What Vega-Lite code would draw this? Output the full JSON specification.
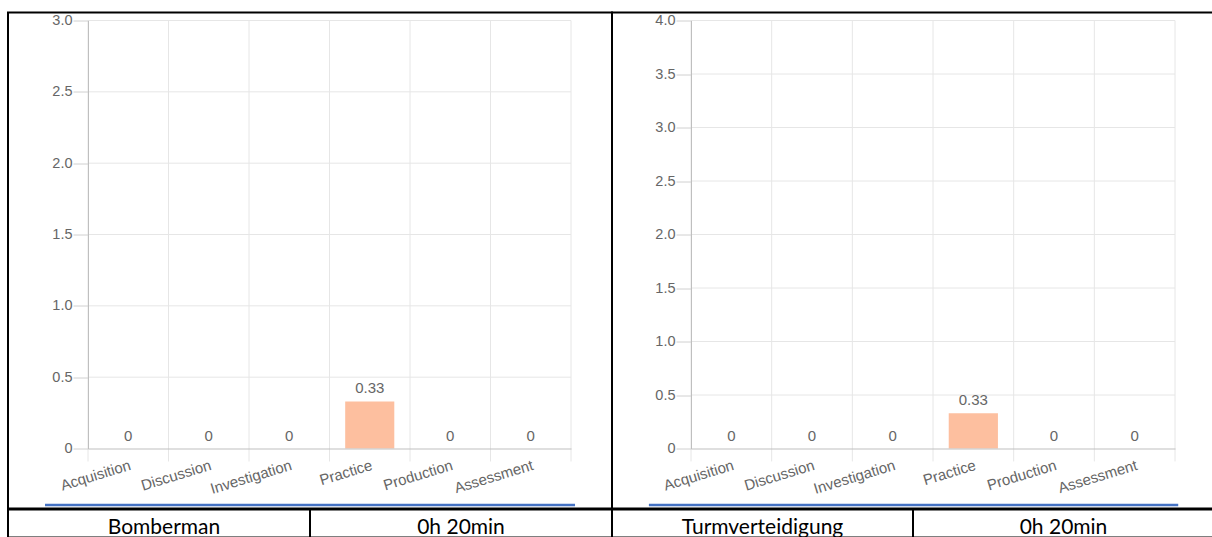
{
  "$schema": "https://vega.github.io/schema/vega-lite/v6.json",
  "background": "white",
  "padding": {"left": 7, "top": 11.5, "right": 0, "bottom": 0},
  "datasets": {
    "activities": [
      {"game": "Bomberman", "activity": "Acquisition", "hours": 0},
      {"game": "Bomberman", "activity": "Discussion", "hours": 0},
      {"game": "Bomberman", "activity": "Investigation", "hours": 0},
      {"game": "Bomberman", "activity": "Practice", "hours": 0.33},
      {"game": "Bomberman", "activity": "Production", "hours": 0},
      {"game": "Bomberman", "activity": "Assessment", "hours": 0},
      {"game": "Turmverteidigung", "activity": "Acquisition", "hours": 0},
      {"game": "Turmverteidigung", "activity": "Discussion", "hours": 0},
      {"game": "Turmverteidigung", "activity": "Investigation", "hours": 0},
      {"game": "Turmverteidigung", "activity": "Practice", "hours": 0.33},
      {"game": "Turmverteidigung", "activity": "Production", "hours": 0},
      {"game": "Turmverteidigung", "activity": "Assessment", "hours": 0}
    ],
    "gridLeft": [{"v": 0.5}, {"v": 1}, {"v": 1.5}, {"v": 2}, {"v": 2.5}, {"v": 3}],
    "gridRight": [{"v": 0.5}, {"v": 1}, {"v": 1.5}, {"v": 2}, {"v": 2.5}, {"v": 3}, {"v": 3.5}, {"v": 4}],
    "gridCols": [{"k": 0}, {"k": 1}, {"k": 2}, {"k": 3}, {"k": 4}, {"k": 5}, {"k": 6}],
    "one": [{"o": 1}]
  },
  "spacing": -2,
  "vconcat": [
    {
      "spacing": 0,
      "bounds": "flush",
      "hconcat": [
        {
          "width": 604,
          "height": 496,
          "resolve": {"scale": {"x": "independent"}},
          "layer": [
            {
              "layer": [
                {
                  "data": {"name": "gridLeft"},
                  "mark": {"type": "rule", "color": "#e6e6e6", "strokeWidth": 1},
                  "encoding": {
                    "x": {"datum": 0, "type": "quantitative", "scale": {"domain": [0, 6], "range": [80, 563]}, "axis": null},
                    "x2": {"datum": 6},
                    "y": {"field": "v", "type": "quantitative", "scale": {"domain": [0, 3], "range": [436, 8]}}
                  }
                },
                {
                  "data": {"name": "gridCols"},
                  "mark": {"type": "rule", "color": "#e6e6e6", "strokeWidth": 1},
                  "encoding": {
                    "x": {"field": "k", "type": "quantitative", "scale": {"domain": [0, 6], "range": [80, 563]}, "axis": null},
                    "y": {"datum": 3, "type": "quantitative", "scale": {"domain": [0, 3], "range": [436, 8]}},
                    "y2": {"datum": -0.091}
                  }
                },
                {
                  "data": {"name": "one"},
                  "mark": {"type": "rule", "color": "#4472c4", "strokeWidth": 2.5},
                  "encoding": {
                    "x": {"datum": -0.534, "type": "quantitative", "scale": {"domain": [0, 6], "range": [80, 563]}, "axis": null},
                    "x2": {"datum": 6.05},
                    "y": {"datum": -0.396, "type": "quantitative", "scale": {"domain": [0, 3], "range": [436, 8]}}
                  }
                }
              ]
            },
            {
              "data": {"name": "activities"},
              "transform": [{"filter": "datum.game === 'Bomberman'"}],
              "encoding": {
                "x": {
                  "field": "activity", "type": "nominal",
                  "sort": ["Acquisition", "Discussion", "Investigation", "Practice", "Production", "Assessment"],
                  "scale": {"range": [80, 563], "paddingInner": 0.39, "paddingOuter": 0.195},
                  "axis": {"title": null, "offset": -60, "labelAngle": -17, "ticks": false, "labelPadding": 9, "domainColor": "#bfbfbf", "labelColor": "#666", "labelFontSize": 15, "grid": false, "zindex": 1}
                },
                "y": {
                  "field": "hours", "type": "quantitative",
                  "scale": {"domain": [0, 3], "range": [436, 8]},
                  "axis": {"title": null, "values": [0, 0.5, 1, 1.5, 2, 2.5, 3], "labelExpr": "datum.value === 0 ? '0' : format(datum.value, '.1f')", "offset": -80, "grid": false, "domainColor": "#bfbfbf", "tickColor": "#d0d0d0", "tickSize": 15, "labelPadding": 1, "labelColor": "#666", "labelFontSize": 14.5, "zindex": 1}
                }
              },
              "layer": [
                {"mark": {"type": "bar", "color": "#fdbf9f"}},
                {
                  "mark": {"type": "text", "baseline": "bottom", "dy": -5, "color": "#666", "fontSize": 15},
                  "encoding": {"text": {"field": "hours", "type": "quantitative"}}
                }
              ]
            }
          ]
        },
        {
          "width": 602,
          "height": 496,
          "resolve": {"scale": {"x": "independent"}},
          "layer": [
            {
              "layer": [
                {
                  "data": {"name": "gridRight"},
                  "mark": {"type": "rule", "color": "#e6e6e6", "strokeWidth": 1},
                  "encoding": {
                    "x": {"datum": 0, "type": "quantitative", "scale": {"domain": [0, 6], "range": [79, 563]}, "axis": null},
                    "x2": {"datum": 6},
                    "y": {"field": "v", "type": "quantitative", "scale": {"domain": [0, 4], "range": [436, 8]}}
                  }
                },
                {
                  "data": {"name": "gridCols"},
                  "mark": {"type": "rule", "color": "#e6e6e6", "strokeWidth": 1},
                  "encoding": {
                    "x": {"field": "k", "type": "quantitative", "scale": {"domain": [0, 6], "range": [79, 563]}, "axis": null},
                    "y": {"datum": 4, "type": "quantitative", "scale": {"domain": [0, 4], "range": [436, 8]}},
                    "y2": {"datum": -0.121}
                  }
                },
                {
                  "data": {"name": "one"},
                  "mark": {"type": "rule", "color": "#4472c4", "strokeWidth": 2.5},
                  "encoding": {
                    "x": {"datum": -0.522, "type": "quantitative", "scale": {"domain": [0, 6], "range": [79, 563]}, "axis": null},
                    "x2": {"datum": 6.04},
                    "y": {"datum": -0.528, "type": "quantitative", "scale": {"domain": [0, 4], "range": [436, 8]}}
                  }
                }
              ]
            },
            {
              "data": {"name": "activities"},
              "transform": [{"filter": "datum.game === 'Turmverteidigung'"}],
              "encoding": {
                "x": {
                  "field": "activity", "type": "nominal",
                  "sort": ["Acquisition", "Discussion", "Investigation", "Practice", "Production", "Assessment"],
                  "scale": {"range": [79, 563], "paddingInner": 0.39, "paddingOuter": 0.195},
                  "axis": {"title": null, "offset": -60, "labelAngle": -17, "ticks": false, "labelPadding": 9, "domainColor": "#bfbfbf", "labelColor": "#666", "labelFontSize": 15, "grid": false, "zindex": 1}
                },
                "y": {
                  "field": "hours", "type": "quantitative",
                  "scale": {"domain": [0, 4], "range": [436, 8]},
                  "axis": {"title": null, "values": [0, 0.5, 1, 1.5, 2, 2.5, 3, 3.5, 4], "labelExpr": "datum.value === 0 ? '0' : format(datum.value, '.1f')", "offset": -79, "grid": false, "domainColor": "#bfbfbf", "tickColor": "#d0d0d0", "tickSize": 15, "labelPadding": 1, "labelColor": "#666", "labelFontSize": 14.5, "zindex": 1}
                }
              },
              "layer": [
                {"mark": {"type": "bar", "color": "#fdbf9f"}},
                {
                  "mark": {"type": "text", "baseline": "bottom", "dy": -5, "color": "#666", "fontSize": 15},
                  "encoding": {"text": {"field": "hours", "type": "quantitative"}}
                }
              ]
            }
          ]
        }
      ]
    },
    {
      "spacing": 0,
      "bounds": "flush",
      "hconcat": [
        {
          "width": 302, "height": 28,
          "view": {"stroke": "#000", "strokeWidth": 2},
          "layer": [{
            "data": {"values": [{"label": "Bomberman"}]},
            "mark": {"type": "text", "font": "Lato", "fontSize": 21, "color": "#000", "baseline": "alphabetic", "dy": 10, "dx": 5},
            "encoding": {"text": {"field": "label", "type": "nominal"}}
          }]
        },
        {
          "width": 302, "height": 28,
          "view": {"stroke": "#000", "strokeWidth": 2},
          "layer": [{
            "data": {"values": [{"label": "0h 20min"}]},
            "mark": {"type": "text", "font": "Lato", "fontSize": 21, "color": "#000", "baseline": "alphabetic", "dy": 10},
            "encoding": {"text": {"field": "label", "type": "nominal"}}
          }]
        },
        {
          "width": 301, "height": 28,
          "view": {"stroke": "#000", "strokeWidth": 2},
          "layer": [{
            "data": {"values": [{"label": "Turmverteidigung"}]},
            "mark": {"type": "text", "font": "Lato", "fontSize": 21, "color": "#000", "baseline": "alphabetic", "dy": 10},
            "encoding": {"text": {"field": "label", "type": "nominal"}}
          }]
        },
        {
          "width": 301, "height": 28,
          "view": {"stroke": "#000", "strokeWidth": 2},
          "layer": [{
            "data": {"values": [{"label": "0h 20min"}]},
            "mark": {"type": "text", "font": "Lato", "fontSize": 21, "color": "#000", "baseline": "alphabetic", "dy": 10},
            "encoding": {"text": {"field": "label", "type": "nominal"}}
          }]
        }
      ]
    }
  ],
  "config": {
    "font": "Liberation Sans",
    "view": {"stroke": "#000", "strokeWidth": 2},
    "axis": {"labelFont": "Liberation Sans"},
    "text": {"font": "Liberation Sans"}
  }
}
